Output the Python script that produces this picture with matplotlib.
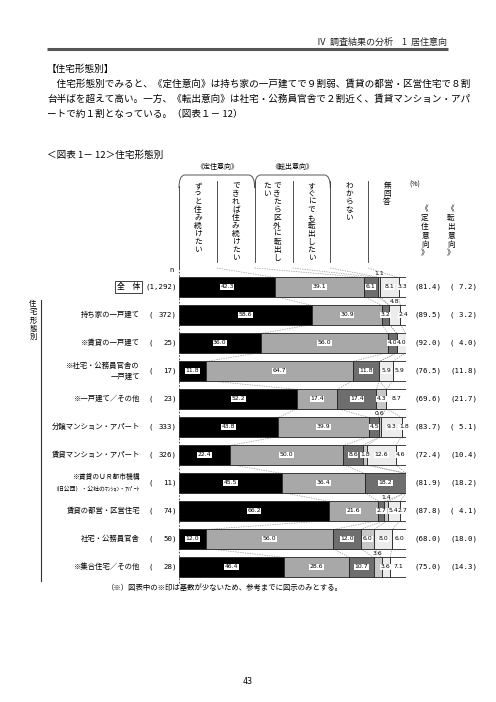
import numpy as np
import matplotlib.pyplot as plt
from matplotlib.path import Path
from matplotlib.patches import PathPatch

plt.rcParams['font.family'] = ['Noto Sans CJK JP', 'DejaVu Sans']
MONO = ['DejaVu Sans Mono', 'Noto Sans CJK JP']
NARROW = ['Liberation Sans Narrow', 'DejaVu Sans']

# ---- data ----
categories = ["全　体", "持ち家の一戸建て", "※賃貸の一戸建て", "※社宅・公務員官舎の\n一戸建て",
              "※一戸建て／その他", "分譲マンション・アパート", "賃貸マンション・アパート",
              "※賃貸のＵＲ都市機構", "賃貸の都営・区営住宅", "社宅・公務員官舎", "※集合住宅／その他"]
ur_subline = "（旧公団）・公社のﾏﾝｼｮﾝ・ｱﾊﾟｰﾄ"
n_counts = ["1,292", "372", "25", "17", "23", "333", "326", "11", "74", "50", "28"]
series_names = ["ずっと住み続けたい", "できれば住み続けたい", "できたら区外に転出したい",
                "すぐにでも転出したい", "わからない", "無回答"]
always = [42.3, 58.6, 36.0, 11.8, 52.2, 43.8, 22.4, 45.5, 66.2, 12.0, 46.4]
rather_stay = [39.1, 30.9, 56.0, 64.7, 17.4, 39.9, 50.0, 36.4, 21.6, 56.0, 28.6]
move_out = [6.1, 3.2, 4.0, 11.8, 17.4, 4.5, 8.6, 18.2, 2.7, 12.0, 10.7]
move_now = [1.1, 0.0, 0.0, 0.0, 4.3, 0.6, 1.8, 0.0, 1.4, 6.0, 3.6]
dont_know = [8.1, 4.8, 4.0, 5.9, 0.0, 9.3, 12.6, 0.0, 5.4, 8.0, 3.6]
no_answer = [3.3, 2.4, 0.0, 5.9, 8.7, 1.8, 4.6, 0.0, 2.7, 6.0, 7.1]

colors = ["#000000", "#a8a8a8", "#6e6e6e", "#c8c8c8", "#ececec", "#ffffff"]
# labels written above the bar instead of inside: (row, series)
raised = {(0, 3), (1, 4), (5, 3), (8, 3), (10, 3)}

vals = np.array([always, rather_stay, move_out, move_now, dont_know, no_answer]).T
stay = vals[:, 0] + vals[:, 1]
leave = vals[:, 2] + vals[:, 3]
cum = np.hstack([np.zeros((len(vals), 1)), np.cumsum(vals, axis=1)])

# ---- figure ----
fig = plt.figure(figsize=(4.96, 7.02), dpi=100)
page = fig.add_axes([0, 0, 1, 1])
page.set_xlim(0, 496)
page.set_ylim(702, 0)
page.axis("off")

# page header
page.text(447, 42, "Ⅳ  調査結果の分析　1  居住意向", ha="right", va="center", fontsize=6.5, color="#222")
page.plot([47, 448], [49, 49], color="#555", lw=2.2, solid_capstyle="butt")
page.text(47, 69, "【住宅形態別】", ha="left", va="center", fontsize=6.9)
body = ["　住宅形態別でみると、《定住意向》は持ち家の一戸建てで９割弱、賃貸の都営・区営住宅で８割",
        "台半ばを超えて高い。一方、《転出意向》は社宅・公務員官舎で２割近く、賃貸マンション・アパ",
        "ートで約１割となっている。（図表１－ 12）"]
for i, line in enumerate(body):
    page.text(47, 84 + 15.3 * i, line, ha="left", va="center", fontsize=6.9)
page.text(47, 155, "＜図表 1－ 12＞住宅形態別", ha="left", va="center", fontsize=6.9)

# left group label
page.text(33, 300, "\n".join("住宅形態別"), ha="center", va="top", fontsize=5.3, linespacing=1.05)
page.plot([41, 41], [300, 581], color="#333", lw=0.8)

page.text(225, 588, "（※）図表中の※印は基数が少ないため、参考までに図示のみとする。",
          ha="center", va="center", fontsize=5.3)
page.text(248, 682, "43", ha="center", va="center", fontsize=6, family=MONO)

# ---- chart axes: x in percent, y in row units ----
X0, X1 = 179, 406
ROW0, ROWH = 287, 28
PY_TOP, PY_BOT = 160, 592
ax = fig.add_axes([X0 / 496, 1 - PY_BOT / 702, (X1 - X0) / 496, (PY_BOT - PY_TOP) / 702])
ax.set_xlim(0, 100)
ax.set_ylim((PY_BOT - ROW0) / ROWH, (PY_TOP - ROW0) / ROWH)
ax.axis("off")

def py(p):
    return (p - ROW0) / ROWH

def px(p):
    return (p - X0) / (X1 - X0) * 100

h = 0.68
rows = np.arange(len(categories))
for k in range(6):
    ax.barh(rows, vals[:, k], left=cum[:, k], height=h, color=colors[k],
            edgecolor="#222", linewidth=0.6, zorder=3)

# value labels
for i in rows:
    for k in range(6):
        v = vals[i, k]
        if v <= 0:
            continue
        xc = cum[i, k] + v / 2
        if (i, k) in raised:
            ax.text(xc, i - h / 2 - 0.05, f"{v:.1f}", ha="center", va="bottom",
                    fontsize=4.4, family=NARROW, zorder=5)
        else:
            ax.text(xc, i, f"{v:.1f}", ha="center", va="center", fontsize=4.4, family=NARROW,
                    color="black", zorder=5,
                    bbox=dict(boxstyle="square,pad=0.08", fc="white", ec="none"))
    # totals on the right
    ax.text(px(414), i, f"({stay[i]:4.1f})", ha="left", va="center", fontsize=5.3, family=MONO,
            clip_on=False)
    ax.text(px(450), i, f"({leave[i]:4.1f})", ha="left", va="center", fontsize=5.3, family=MONO,
            clip_on=False)
    # n
    if len(n_counts[i]) > 3:
        ax.text(px(177), i, f"({n_counts[i]})", ha="right", va="center", fontsize=5.3,
                family=MONO, clip_on=False)
    else:
        ax.text(px(149), i, "(", ha="left", va="center", fontsize=5.3, family=MONO, clip_on=False)
        ax.text(px(177), i, f"{n_counts[i]})", ha="right", va="center", fontsize=5.3,
                family=MONO, clip_on=False)

# category labels
for i, lab in enumerate(categories):
    if i == 0:
        ax.text(px(140), i, lab, ha="right", va="center", fontsize=5.6, clip_on=False,
                bbox=dict(boxstyle="square,pad=0.25", fc="white", ec="#222", lw=0.6))
    elif i == 7:
        ax.text(px(140), i - 0.2, lab, ha="right", va="center", fontsize=4.9, clip_on=False)
        ax.text(px(140), i + 0.2, ur_subline, ha="right", va="center", fontsize=4.2, clip_on=False)
    else:
        ax.text(px(140), i, lab, ha="right", va="center", fontsize=5.3, clip_on=False,
                multialignment="right", linespacing=1.5)
ax.text(px(172), py(270), "n", ha="center", va="center", fontsize=5, clip_on=False)

# dashed connectors between rows
for i in rows[:-1]:
    for k in range(1, 6):
        ax.plot([cum[i, k], cum[i + 1, k]], [i + h / 2, i + 1 - h / 2], color="#9a9a9a",
                lw=0.5, ls=(0, (2, 1.5)), zorder=1)

# header columns
head_bot = py(268)
col_w = 100 / 6
for k in range(1, 6):
    ax.plot([k * col_w] * 2, [py(181), py(262)], color="#333", lw=0.6)
for xe in (0, 100):
    ax.plot([xe, xe], [py(186), py(268)], color="#333", lw=0.6)
    ax.plot([xe, xe], [py(268), len(rows) - 1 + h / 2 + 0.3], color="#333", lw=0.6,
            ls=(0, (2, 2)), zorder=2)
for k in range(1, 6):
    ax.plot([k * col_w, cum[0, k]], [head_bot, -h / 2], color="#9a9a9a", lw=0.5,
            ls=(0, (2, 1.5)), zorder=1)

# group brackets
rx = 2.6
for a, b, lab in [(0, 2 * col_w, "《定住意向》"), (2 * col_w, 4 * col_w, "《転出意向》")]:
    top = py(175)
    verts = [(a, py(188)), (a, top), (a + rx, top), (b - rx, top), (b, top), (b, py(188))]
    codes = [Path.MOVETO, Path.CURVE3, Path.CURVE3, Path.LINETO, Path.CURVE3, Path.CURVE3]
    ax.add_patch(PathPatch(Path(verts, codes), fc="none", ec="#555", lw=0.7, clip_on=False))
    ax.text((a + b) / 2, py(167), lab, ha="center", va="center", fontsize=5, clip_on=False)

# vertical column headings
vfs = 5.5
def vtext(x, y, s, **kw):
    ax.text(x, y, "\n".join(s), ha="center", va="top", fontsize=vfs, linespacing=1.0,
            clip_on=False, **kw)

vtext(col_w * 0.5, py(182), series_names[0])
vtext(col_w * 1.5, py(182), series_names[1])
vtext(col_w * 2.5 + px(182.5) - px(179), py(182), "できたら区外に転出し")
vtext(col_w * 2.5 - px(185.5) + px(179), py(182), "たい")
vtext(col_w * 3.5, py(182), series_names[3])
vtext(col_w * 4.5, py(182), series_names[4])
vtext(col_w * 5.5, py(182), series_names[5])
ax.text(px(409), py(185), "(%)", ha="left", va="center", fontsize=5, clip_on=False)
for xx, s in ((425, "《定住意向》"), (451, "《転出意向》")):
    ax.text(px(xx), py(205), "\n".join(s), ha="center", va="top", fontsize=5.5,
            linespacing=1.15, clip_on=False)

fig.savefig("out.png", dpi=100)
